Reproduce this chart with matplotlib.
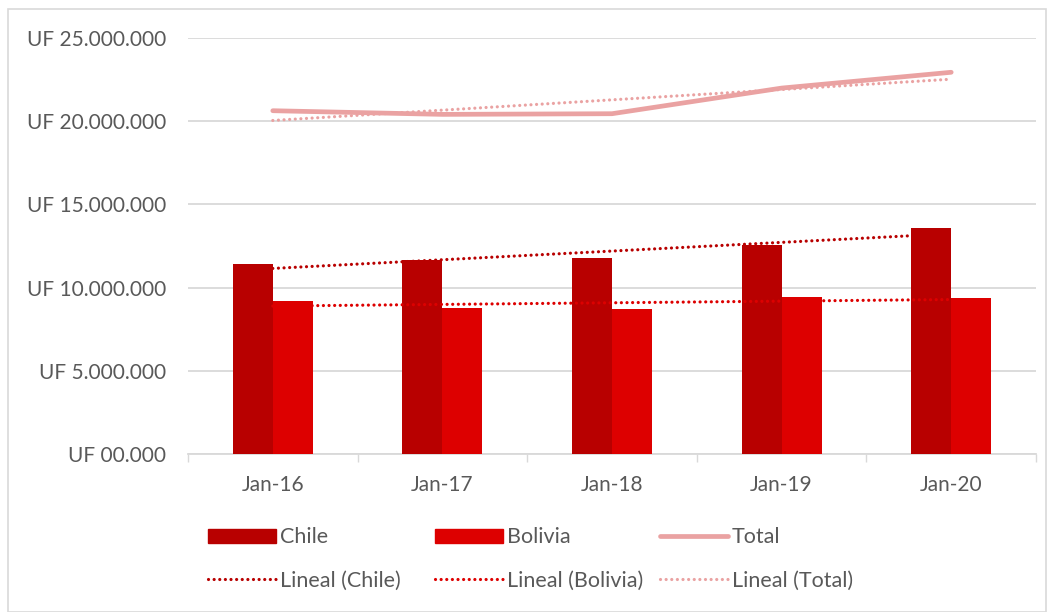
import numpy as np
import matplotlib
matplotlib.use("Agg")
import matplotlib.pyplot as plt
from matplotlib.patches import Rectangle
from matplotlib.lines import Line2D

categories = ["Jan-16", "Jan-17", "Jan-18", "Jan-19", "Jan-20"]
chile = [11_420_000, 11_660_000, 11_760_000, 12_560_000, 13_580_000]
bolivia = [9_210_000, 8_750_000, 8_690_000, 9_430_000, 9_360_000]
total = [20_630_000, 20_410_000, 20_450_000, 21_990_000, 22_940_000]
yticks = [0, 5_000_000, 10_000_000, 15_000_000, 20_000_000, 25_000_000]
ytick_labels = ["UF 00.000", "UF 5.000.000", "UF 10.000.000", "UF 15.000.000",
                "UF 20.000.000", "UF 25.000.000"]

c_chile = "#B80000"
c_bol = "#DD0000"
c_tot = "#EAA2A2"
txt = "#595959"
grid = "#D9D9D9"

plt.rcParams['font.family'] = ['Lato', 'DejaVu Sans']

fig = plt.figure(figsize=(10.52, 6.12), dpi=100)
ax = fig.add_axes([188/1052, 1-454/612, (1036-188)/1052, (454-38)/612])

x = np.arange(len(categories))
w = 0.236
ax.bar(x - w/2, chile, w, color=c_chile, zorder=3, label="Chile")
ax.bar(x + w/2, bolivia, w, color=c_bol, zorder=3, label="Bolivia")
ax.plot(x, total, color=c_tot, lw=3.4, solid_capstyle='round', zorder=4, label="Total")

dot = (0, (0.01, 1.75))
tlw = 2.3
def trend(vals):
    p = np.polyfit(x, vals, 1)
    return np.polyval(p, x)

ax.plot(x, trend(chile), color=c_chile, lw=tlw, linestyle=dot, dash_capstyle='round', zorder=5)
ax.plot(x, trend(bolivia), color=c_bol, lw=tlw, linestyle=dot, dash_capstyle='round', zorder=5)
ax.plot(x, trend(total), color=c_tot, lw=tlw, linestyle=dot, dash_capstyle='round', zorder=5)

ax.set_xlim(-0.5, len(categories) - 0.5)
ax.set_ylim(0, 25_000_000)
ax.set_yticks(yticks)
ax.set_yticklabels(ytick_labels)
ax.set_xticks(x)
ax.set_xticklabels(categories)
ax.set_xticks(np.arange(-0.5, len(categories)), minor=True)
ax.tick_params(axis='x', which='major', length=0, pad=15, labelsize=15, labelcolor=txt)
ax.tick_params(axis='x', which='minor', length=6, color=grid, width=1)
ax.tick_params(axis='y', length=0, pad=16, labelsize=15, labelcolor=txt)
ax.grid(axis='y', color=grid, lw=1.3, zorder=0)
for s in ['top', 'right', 'left']:
    ax.spines[s].set_visible(False)
ax.spines['bottom'].set_color(grid)
ax.spines['bottom'].set_linewidth(1.3)

# legend: three columns placed like the reference
def trend_handle(c):
    return Line2D([], [], color=c, lw=tlw, linestyle=dot, dash_capstyle='round')

cols = [
    ([Rectangle((0, 0), 1, 1, color=c_chile), trend_handle(c_chile)], ["Chile", "Lineal (Chile)"], 208),
    ([Rectangle((0, 0), 1, 1, color=c_bol), trend_handle(c_bol)], ["Bolivia", "Lineal (Bolivia)"], 435),
    ([Line2D([], [], color=c_tot, lw=3.4, solid_capstyle='round'), trend_handle(c_tot)], ["Total", "Lineal (Total)"], 660),
]
for hs, ls, xp in cols:
    leg = fig.legend(hs, ls, loc='center left', bbox_to_anchor=(xp/1052, 1-559/612),
                     frameon=False, fontsize=15.5, handlelength=3.15, handleheight=0.65,
                     handletextpad=0.2, labelspacing=1.08, borderpad=0, borderaxespad=0)
    for t in leg.get_texts():
        t.set_color(txt)

fig.patches.append(Rectangle((8/1052, 0), 1038/1052, 1-9/612, transform=fig.transFigure,
                             fill=False, edgecolor=grid, lw=1.2))

fig.savefig("out.png", dpi=100)
